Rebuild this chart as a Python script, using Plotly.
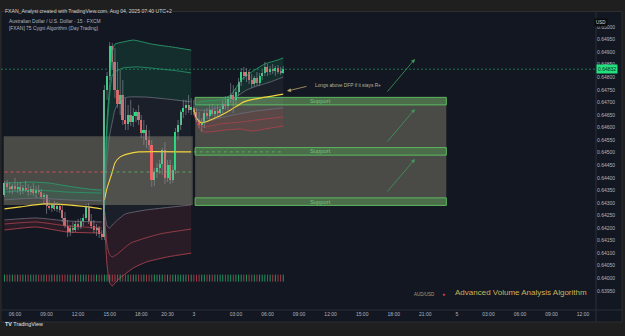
import plotly.graph_objects as go

# ---------------- data ----------------
# x = 15-minute bar index (0 = Aug 1 06:00 UTC+2, weekend gap removed)
tick_idx = [0, 12, 24, 36, 48, 58, 68, 84, 96, 108, 120, 132, 144, 156, 168, 180, 192, 204, 216]
tick_text = ["06:00", "09:00", "12:00", "15:00", "18:00", "20:30", "3", "03:00", "06:00", "09:00",
             "12:00", "15:00", "18:00", "21:00", "5", "03:00", "06:00", "09:00", "12:00"]
price_ticks = [0.6395, 0.6400, 0.6405, 0.6410, 0.6415, 0.6420, 0.6425, 0.6430, 0.6435, 0.6440, 0.6445,
               0.6450, 0.6455, 0.6460, 0.6465, 0.6470, 0.6475, 0.6480, 0.6485, 0.6490, 0.6495, 0.6500]

bars = list(range(-4, 103))
open_ = [.64331, .64379, .64363, .64355, .64367, .64355, .64363, .64347, .64359, .64351, .64343, .64355, .64339, .64351,
         .64343, .64323, .64331, .64288, .64280, .64292, .64276, .64288, .64272, .64240, .64208, .64184, .64200, .64192,
         .64216, .64204, .64228, .64240, .64284, .64228, .64208, .64192, .64200, .64176,
         .64164, .64749, .64805, .64924, .64861, .64749, .64694, .64729, .64630, .64614, .64650, .64622, .64646, .64662,
         .64630, .64578, .64590, .64550, .64530, .64391, .64423, .64439, .64455, .64510, .64399, .64451, .64391, .64431,
         .64582, .64610, .64662, .64678, .64690, .64670,
         .64678, .64662, .64630, .64610, .64622, .64658, .64646, .64670, .64654, .64666, .64658, .64674, .64694, .64686,
         .64713, .64729, .64710, .64741, .64781, .64821, .64805, .64821, .64789, .64773, .64797, .64777, .64805, .64817,
         .64841, .64821, .64833, .64825, .64837, .64821, .64817]
high = [.64387, .64391, .64383, .64375, .64399, .64379, .64383, .64371, .64387, .64375, .64367, .64379, .64367, .64371,
        .64355, .64339, .64335, .64312, .64300, .64308, .64304, .64300, .64292, .64264, .64232, .64212, .64224, .64228,
        .64236, .64240, .64256, .64296, .64300, .64256, .64232, .64216, .64208, .64192,
        .64769, .64821, .64940, .64936, .64916, .64861, .64829, .64789, .64717, .64690, .64710, .64678, .64670, .64690,
        .64650, .64630, .64610, .64590, .64550, .64439, .64459, .64471, .64518, .64542, .64471, .64471, .64451, .64598,
        .64630, .64670, .64710, .64710, .64729, .64717,
        .64710, .64678, .64662, .64638, .64670, .64678, .64690, .64694, .64686, .64690, .64682, .64710, .64725, .64725,
        .64777, .64769, .64757, .64797, .64837, .64841, .64837, .64829, .64813, .64805, .64821, .64817, .64829, .64861,
        .64853, .64845, .64853, .64845, .64849, .64841, .64845]
low = [.64323, .64351, .64339, .64335, .64347, .64339, .64331, .64335, .64343, .64327, .64331, .64327, .64319, .64335,
       .64315, .64300, .64256, .64272, .64264, .64268, .64264, .64260, .64224, .64200, .64164, .64168, .64180, .64184,
       .64192, .64196, .64208, .64232, .64216, .64196, .64180, .64168, .64160, .64152,
       .64152, .64710, .64789, .64829, .64717, .64678, .64650, .64610, .64590, .64590, .64606, .64602, .64622, .64610,
       .64558, .64530, .64518, .64510, .64363, .64367, .64399, .64415, .64411, .64375, .64383, .64375, .64379, .64415,
       .64550, .64590, .64638, .64650, .64658, .64650,
       .64650, .64622, .64598, .64582, .64598, .64634, .64630, .64646, .64638, .64646, .64642, .64654, .64670, .64662,
       .64698, .64658, .64690, .64725, .64765, .64789, .64781, .64773, .64757, .64761, .64765, .64765, .64789, .64805,
       .64805, .64809, .64813, .64805, .64813, .64809, .64813]
close = [.64379, .64363, .64355, .64367, .64355, .64363, .64347, .64359, .64351, .64343, .64355, .64339, .64351, .64343,
         .64323, .64331, .64288, .64280, .64292, .64276, .64288, .64272, .64240, .64208, .64184, .64200, .64192, .64216,
         .64204, .64228, .64240, .64284, .64228, .64208, .64192, .64200, .64176, .64164,
         .64749, .64805, .64924, .64861, .64749, .64694, .64729, .64630, .64614, .64650, .64622, .64646, .64662, .64630,
         .64578, .64590, .64550, .64530, .64391, .64423, .64439, .64455, .64510, .64399, .64451, .64391, .64431, .64582,
         .64610, .64662, .64678, .64690, .64670, .64682,
         .64662, .64630, .64610, .64622, .64658, .64646, .64670, .64654, .64666, .64658, .64674, .64694, .64686, .64713,
         .64729, .64710, .64741, .64781, .64821, .64805, .64821, .64789, .64773, .64797, .64777, .64805, .64817, .64841,
         .64821, .64833, .64825, .64837, .64821, .64817, .64832]
last_price = 0.64832

# anchored VWAP + deviation bands, three sessions (A: Aug1 pre-NFP, B: post-NFP, C: Aug 3/4)
A_vwap_x = [-4, 2, 11, 20, 28, 33];            A_vwap = [.64276, .64284, .64296, .64292, .64284, .64276]
A_up2_x = [-4, 7, 13, 20, 28, 33];             A_up2 = [.64379, .64383, .64379, .64367, .64355, .64351]
A_x = [-4, 8, 20, 33]
A_up1 = [.64343, .64351, .64343, .64339]
A_gup = [.64312, .64319, .64312, .64308]
A_glo = [.64232, .64240, .64228, .64224]
A_lo1 = [.64216, .64224, .64208, .64200]
A_lo2 = [.64192, .64204, .64184, .64180]

B_vwap_x = [34, 35, 36, 37, 38, 40, 43, 47, 67]
B_vwap = [.64312, .64359, .64391, .64423, .64459, .64483, .64495, .64503, .64503]
B_up2_x = [34, 35, 36, 37, 38, 41, 45, 52, 60, 67]
B_up2 = [.64312, .64630, .64769, .64901, .64932, .64940, .64948, .64932, .64920, .64908]
B_up1_x = [34, 35, 36, 37, 38, 41, 47, 55, 62, 67]
B_up1 = [.64292, .64590, .64729, .64809, .64821, .64837, .64841, .64833, .64825, .64817]
B_gup_x = [34, 35, 36, 37, 38, 40, 43, 50, 58, 67]
B_gup = [.64272, .64471, .64570, .64622, .64670, .64710, .64721, .64721, .64713, .64702]
B_glo_x = [34, 35, 36, 37, 39, 42, 50, 60, 67]
B_glo = [.64272, .64208, .64200, .64212, .64232, .64256, .64272, .64284, .64292]
B_lo1_x = [34, 35, 36, 37, 39, 44, 55, 67]
B_lo1 = [.64252, .64132, .64093, .64085, .64097, .64140, .64176, .64196]
B_lo2_x = [34, 35, 36, 37, 38, 40, 45, 50, 58, 67]
B_lo2 = [.64232, .64053, .63981, .63969, .63981, .64001, .64041, .64065, .64085, .64100]

C_vwap_x = [68, 69, 71, 77, 82, 87, 91, 102]
C_vwap = [.64670, .64638, .64618, .64642, .64670, .64702, .64713, .64733]
C_up2_x = [68, 70, 78, 82, 86, 90, 95, 100, 102]
C_up2 = [.64678, .64702, .64710, .64729, .64789, .64821, .64853, .64869, .64877]
C_gup_x = [68, 74, 80, 84, 88, 92, 97, 102]
C_gup = [.64670, .64670, .64690, .64721, .64749, .64765, .64781, .64801]
C_glo_x = [68, 70, 72, 78, 85, 92, 102]
C_glo = [.64662, .64630, .64622, .64638, .64654, .64666, .64678]
C_lo1_x = [68, 70, 72, 78, 86, 92, 102]
C_lo1 = [.64658, .64614, .64602, .64614, .64622, .64630, .64642]
C_lo2_x = [68, 70, 72, 80, 86, 90, 95, 102]
C_lo2 = [.64654, .64598, .64582, .64590, .64594, .64586, .64594, .64606]

# previous-session VWAP levels (dotted)
prevA_x = [-4, 34];  prevA = [0.64423, 0.64423]
prevB_x = [34, 67];  prevB = [0.64423, 0.64423]
prevC_x = [68, 102]; prevC = [0.64503, 0.64503]

# value areas (grey) and support zones
va_left_x = [-4.3, 67.6];  va_left = [0.64292, 0.64565]
va_right_x = [68.5, 164.0]; va_right = [0.6429, 0.6472]
support_x = [68.5, 164.0]
support_lo = [0.6469, 0.6449, 0.6429]
support_hi = [0.6472, 0.6452, 0.6432]
support_label_x = 116

# projected up-arrows (tail -> head)
arrow_tail_x = 141.1; arrow_head_x = 152.1
arrow_tail_y = [0.64737, 0.64538, 0.64339]
arrow_head_y = [0.64873, 0.64674, 0.64475]
note_text = "Longs above DFP if it stays R+"
note_pos = (113.3, 0.64769)
note_arrow_head = (103.4, 0.64745)
note_arrow_tail = (111.4, 0.64765)

# ---------------- styling ----------------
W, H = 625, 336
OUTER = "#1f1f1f"
PANEL = "#131722"
GREEN = "#22e07e"
RED = "#f25a5e"
WICK = "#8f949c"
TXT = "#b2b5be"
FONT = "Liberation Sans"

PX_L, PX_R, PX_T, PX_B = 1, 596, 12, 310
y_range = [0.638737, 0.650597]
x_range = [-5.32, 220.91]


def px(x):
    return x / W


def py(y):
    return 1 - y / H


fig = go.Figure()


def line(x, y, color, width=0.9, fill=None, fillcolor=None, dash=None, smooth=True):
    fig.add_trace(go.Scatter(
        x=x, y=y, mode="lines",
        line=dict(color=color, width=width, dash=dash,
                  shape="spline" if smooth else "linear", smoothing=0.5),
        fill=fill, fillcolor=fillcolor, hoverinfo="skip", showlegend=False))


BAND_G = "#2a9a6a"
BAND_GRAY = "#6c707c"
BAND_R = "#a8424c"
YEL = "#f2d43c"
FILL_G = "rgba(30,170,110,0.16)"
FILL_R = "rgba(200,60,75,0.13)"
FILL_N = "rgba(255,255,255,0.035)"

segments = [
    (A_x, A_glo, A_x, A_gup, A_up2_x, A_up2, A_x, A_up1, A_x, A_lo1, A_x, A_lo2, A_vwap_x, A_vwap, None),
    (B_glo_x, B_glo, B_gup_x, B_gup, B_up2_x, B_up2, B_up1_x, B_up1, B_lo1_x, B_lo1, B_lo2_x, B_lo2, B_vwap_x, B_vwap, FILL_N),
    (C_glo_x, C_glo, C_gup_x, C_gup, C_up2_x, C_up2, None, None, C_lo1_x, C_lo1, C_lo2_x, C_lo2, C_vwap_x, C_vwap, FILL_N),
]
for (glx, gl, gux, gu, u2x, u2, u1x, u1, l1x, l1, l2x, l2, vx, v, mid) in segments:
    line(glx, gl, BAND_GRAY, 0.8)
    line(gux, gu, BAND_GRAY, 0.8, fill="tonexty" if mid else None, fillcolor=mid)
    line(u2x, u2, BAND_G, 0.9, fill="tonexty", fillcolor=FILL_G)
    if u1x is not None:
        line(u1x, u1, BAND_G, 0.8)
    line(glx, gl, "rgba(0,0,0,0)", 0.1)
    line(l2x, l2, BAND_R, 0.9, fill="tonexty", fillcolor=FILL_R)
    line(l1x, l1, BAND_R, 0.8)
    line(vx, v, YEL, 1.1)

# previous-session VWAP dotted levels
line(prevA_x, prevA, "#e0505a", 0.9, dash="dot", smooth=False)
line(prevB_x, prevB, "#5cae62", 0.9, dash="dot", smooth=False)
line(prevC_x, prevC, "#5cae62", 0.9, dash="dot", smooth=False)

# candles: wicks then bodies
wx, wy = [], []
for i, h, l in zip(bars, high, low):
    wx += [i, i, None]
    wy += [l, h, None]
fig.add_trace(go.Scatter(x=wx, y=wy, mode="lines", line=dict(color=WICK, width=0.6),
                         hoverinfo="skip", showlegend=False))
up = [c >= o for o, c in zip(open_, close)]
fig.add_trace(go.Bar(x=bars, y=[c - o for o, c in zip(open_, close)], base=open_, width=0.76,
                     marker=dict(color=[GREEN if u else RED for u in up], line=dict(width=0)),
                     hoverinfo="skip", showlegend=False))

# signal strip at the bottom
fig.add_trace(go.Scatter(
    x=bars, y=[0.107] * len(bars), yaxis="y2", mode="markers",
    marker=dict(symbol="line-ns", size=5,
                line=dict(width=1.0, color=["rgba(40,200,120,0.7)" if u else "rgba(215,75,85,0.7)" for u in up])),
    hoverinfo="skip", showlegend=False))

shapes = [
    dict(type="rect", xref="paper", yref="paper", x0=px(1), x1=px(622), y0=py(322), y1=py(11.5),
         fillcolor=PANEL, line=dict(color="#2e2e2e", width=1), layer="below"),
    dict(type="line", xref="paper", yref="paper", x0=px(PX_R), x1=px(PX_R), y0=py(322), y1=py(11.5),
         line=dict(color="#2a2e39", width=1), layer="below"),
    dict(type="line", xref="paper", yref="paper", x0=px(1), x1=px(622), y0=py(PX_B), y1=py(PX_B),
         line=dict(color="#2a2e39", width=1), layer="below"),
    dict(type="rect", xref="x", yref="y", x0=va_left_x[0], x1=va_left_x[1], y0=va_left[0], y1=va_left[1],
         fillcolor="#4a4a47", line=dict(width=0), layer="below"),
    dict(type="rect", xref="x", yref="y", x0=va_right_x[0], x1=va_right_x[1], y0=va_right[0], y1=va_right[1],
         fillcolor="#4a4a47", line=dict(width=0), layer="below"),
]
for lo, hi in zip(support_lo, support_hi):
    shapes.append(dict(type="rect", xref="x", yref="y", x0=support_x[0], x1=support_x[1], y0=lo, y1=hi,
                       fillcolor="rgba(76,175,80,0.35)", line=dict(color="#5cb860", width=1), layer="below"))
shapes.append(dict(type="line", xref="paper", yref="y", x0=px(PX_L), x1=px(PX_R), y0=last_price, y1=last_price,
                   line=dict(color="rgba(30,160,100,0.85)", width=0.8, dash="2px,2px"), layer="below"))

ann = []
for lo, hi in zip(support_lo, support_hi):
    ann.append(dict(x=support_label_x, y=(lo + hi) / 2, xref="x", yref="y", text="Support", showarrow=False,
                    font=dict(family=FONT, size=5.8, color="#78c47c")))
for ty, hy in zip(arrow_tail_y, arrow_head_y):
    ann.append(dict(x=arrow_head_x, y=hy, ax=arrow_tail_x, ay=ty, xref="x", yref="y", axref="x", ayref="y",
                    text="", showarrow=True, arrowhead=2, arrowsize=1, arrowwidth=0.8, arrowcolor="#3f9a5a"))
ann.append(dict(x=note_arrow_head[0], y=note_arrow_head[1], ax=note_arrow_tail[0], ay=note_arrow_tail[1],
                xref="x", yref="y", axref="x", ayref="y", text="", showarrow=True, arrowhead=2,
                arrowsize=1, arrowwidth=0.8, arrowcolor="#b8a66a"))
ann.append(dict(x=note_pos[0], y=note_pos[1], xref="x", yref="y", text=note_text, showarrow=False,
                xanchor="left", font=dict(family=FONT, size=4.8, color="#bdb28e")))

# header / legend texts
ann += [
    dict(x=px(3), y=py(5.5), xref="paper", yref="paper", xanchor="left", showarrow=False,
         text="FXAN_Analyst created with TradingView.com, Aug 04, 2025 07:40 UTC+2",
         font=dict(family=FONT, size=5.1, color="#d0d0d0")),
    dict(x=px(7), y=py(16.5), xref="paper", yref="paper", xanchor="left", showarrow=False,
         text="Australian Dollar / U.S. Dollar · 15 · FXCM", font=dict(family=FONT, size=4.9, color=TXT)),
    dict(x=px(7), y=py(24), xref="paper", yref="paper", xanchor="left", showarrow=False,
         text="[FXAN] 75 Cygni Algorithm (Day Trading)", font=dict(family=FONT, size=4.9, color=TXT)),
    dict(x=px(608), y=py(17.5), xref="paper", yref="paper", showarrow=False, text="USD",
         bgcolor="#0c0c0c", borderpad=1, font=dict(family=FONT, size=4.5, color="#d8d8d8")),
    dict(x=px(596), y=last_price, xref="paper", yref="y", xanchor="left", showarrow=False,
         text="0.64832", bgcolor="#22e07e", borderpad=1,
         font=dict(family=FONT, size=5, color="#0a2a18")),
    dict(x=px(437), y=py(299), xref="paper", yref="paper", xanchor="right", showarrow=False,
         text="AUD/USD", font=dict(family=FONT, size=4.5, color="#a89f74")),
    dict(x=px(441), y=py(299), xref="paper", yref="paper", xanchor="left", showarrow=False,
         text="▸", font=dict(family=FONT, size=5, color="#e04848")),
    dict(x=px(453), y=py(298.5), xref="paper", yref="paper", xanchor="left", showarrow=False,
         text="Advanced Volume Analysis Algorithm", font=dict(family=FONT, size=8, color="#c9b25a")),
    dict(x=px(3), y=py(328.5), xref="paper", yref="paper", xanchor="left", showarrow=False,
         text="<b>TV</b> TradingView", font=dict(family=FONT, size=5.4, color="#e0e0e0")),
]

fig.update_layout(
    width=W, height=H, margin=dict(l=0, r=0, t=0, b=0),
    paper_bgcolor=OUTER, plot_bgcolor="rgba(0,0,0,0)",
    showlegend=False, bargap=0,
    xaxis=dict(domain=[px(PX_L), px(PX_R)], range=x_range, showgrid=False, zeroline=False,
               tickmode="array", tickvals=tick_idx, ticktext=tick_text, ticks="",
               tickfont=dict(family=FONT, size=5, color=TXT), showline=False, fixedrange=True),
    yaxis=dict(domain=[py(PX_B), py(PX_T)], range=y_range, side="right", showgrid=False, zeroline=False,
               tickmode="array", tickvals=price_ticks, ticktext=[f"{v:.5f}" for v in price_ticks],
               ticks="", tickfont=dict(family=FONT, size=5, color=TXT), showline=False, fixedrange=True),
    yaxis2=dict(overlaying="y", range=[0, 1], visible=False, fixedrange=True),
    shapes=shapes, annotations=ann,
)

fig.write_html("out.html", config={"displayModeBar": False})
